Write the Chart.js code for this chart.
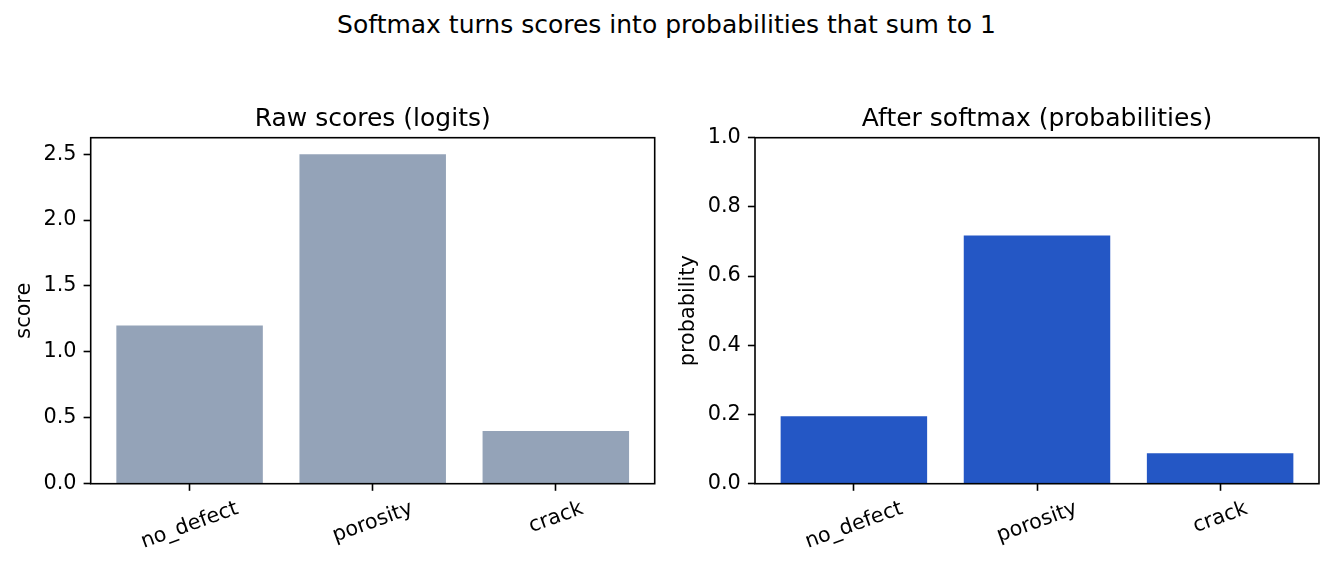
<!DOCTYPE html>
<html><head><meta charset="utf-8">
<script src="https://cdn.jsdelivr.net/npm/chart.js@4"></script>
<style>
html,body{margin:0;padding:0;background:#fff;}
#wrap{position:relative;width:1333px;height:568px;overflow:hidden;background:#fff;}
canvas{position:absolute;top:0;}
#sup{position:absolute;left:0;top:12.2px;width:1333px;text-align:center;font-family:"DejaVu Sans";font-size:25px;line-height:25px;color:#000;white-space:nowrap;}
</style></head><body>
<div id="wrap">
<div id="sup">Softmax turns scores into probabilities that sum to 1</div>
<canvas id="c1" width="664" height="568" style="left:0px"></canvas>
<canvas id="c2" width="669" height="568" style="left:664px"></canvas>
</div>
<script>
const categories = ['no_defect', 'porosity', 'crack'];
const logits = [1.2, 2.5, 0.4];
const probabilities = [0.195, 0.717, 0.088];
const logitTicks = [0, 0.5, 1.0, 1.5, 2.0, 2.5];
const probTicks = [0, 0.2, 0.4, 0.6, 0.8, 1.0];
const leftTitle = 'Raw scores (logits)';
const rightTitle = 'After softmax (probabilities)';
const leftYLabel = 'score';
const rightYLabel = 'probability';

const FONT = '"DejaVu Sans"';
const TICK_FS = 20.8;
const TITLE_FS = 25;
const LW = 1.6;
const TICK_LEN = 7.1;
const TICK_PAD = 7.1;

const decor = {
  id: 'decor',
  afterDatasetsDraw(chart) {
    const {ctx, chartArea: a} = chart;
    ctx.save();
    ctx.strokeStyle = '#000';
    ctx.lineWidth = LW;
    ctx.strokeRect(a.left, a.top, a.right - a.left, a.bottom - a.top);
    ctx.restore();
  },
  afterDraw(chart, args, opts) {
    const {ctx, chartArea: a} = chart;
    const xs = chart.scales.x;
    ctx.save();
    ctx.fillStyle = '#000';
    ctx.font = TITLE_FS + 'px ' + FONT;
    ctx.textAlign = 'center';
    ctx.textBaseline = 'alphabetic';
    ctx.fillText(opts.title, (a.left + a.right) / 2, 125.8);
    ctx.font = TICK_FS + 'px ' + FONT;
    const ang = 20 * Math.PI / 180;
    xs.ticks.forEach(t => {
      const label = categories[t.value];
      const w = ctx.measureText(label).width;
      const h = TICK_FS;
      const H = w * Math.sin(ang) + h * Math.cos(ang);
      const cx = xs.getPixelForValue(t.value);
      const cy = a.bottom + TICK_LEN + TICK_PAD + H / 2;
      ctx.save();
      ctx.translate(cx, cy);
      ctx.rotate(-ang);
      ctx.textAlign = 'center';
      ctx.textBaseline = 'alphabetic';
      ctx.fillText(label, 0, 0.28 * TICK_FS);
      ctx.restore();
    });
    ctx.restore();
  }
};

function makeChart(id, values, color, yMax, yTicks, yLabel, title, yW, padRight) {
  const canvas = document.getElementById(id);
  const H = canvas.height;
  return new Chart(canvas, {
    type: 'bar',
    data: {
      datasets: [{
        data: categories.map((c, i) => ({x: i, y: values[i]})),
        backgroundColor: color,
        borderWidth: 0,
        barPercentage: 0.8,
        categoryPercentage: 1.0
      }]
    },
    options: {
      responsive: false,
      animation: false,
      devicePixelRatio: 1,
      layout: {padding: {left: 0, right: padRight, top: 137.7, bottom: 0}},
      plugins: {
        legend: {display: false},
        tooltip: {enabled: false},
        title: {display: false},
        decor: {title: title}
      },
      scales: {
        x: {
          type: 'linear',
          offset: false,
          min: -0.54,
          max: categories.length - 1 + 0.54,
          afterBuildTicks: s => { s.ticks = categories.map((c, i) => ({value: i})); },
          afterFit: s => { s.height = H - 483.7; },
          ticks: {display: false},
          border: {display: false},
          grid: {display: true, offset: false, drawOnChartArea: false, drawTicks: true, tickLength: TICK_LEN, tickWidth: LW, tickColor: '#000'}
        },
        y: {
          type: 'linear',
          min: 0,
          max: yMax,
          afterBuildTicks: s => { s.ticks = yTicks.map(v => ({value: v})); },
          afterFit: s => { s.width = yW; },
          ticks: {
            color: '#000',
            padding: TICK_PAD,
            font: {family: 'DejaVu Sans', size: TICK_FS},
            callback: v => Number(v).toFixed(1)
          },
          border: {display: false},
          grid: {display: true, offset: false, drawOnChartArea: false, drawTicks: true, tickLength: TICK_LEN, tickWidth: LW, tickColor: '#000'},
          title: {
            display: true,
            text: yLabel,
            color: '#000',
            font: {family: 'DejaVu Sans', size: TICK_FS},
            padding: {top: 12.0, bottom: 0}
          }
        }
      }
    },
    plugins: [decor]
  });
}

makeChart('c1', logits, '#94a3b8', 2.625, logitTicks, leftYLabel, leftTitle, 90.7, 9.3);
makeChart('c2', probabilities, '#2457c5', 1.0, probTicks, rightYLabel, rightTitle, 91, 14);
</script>
</body></html>
